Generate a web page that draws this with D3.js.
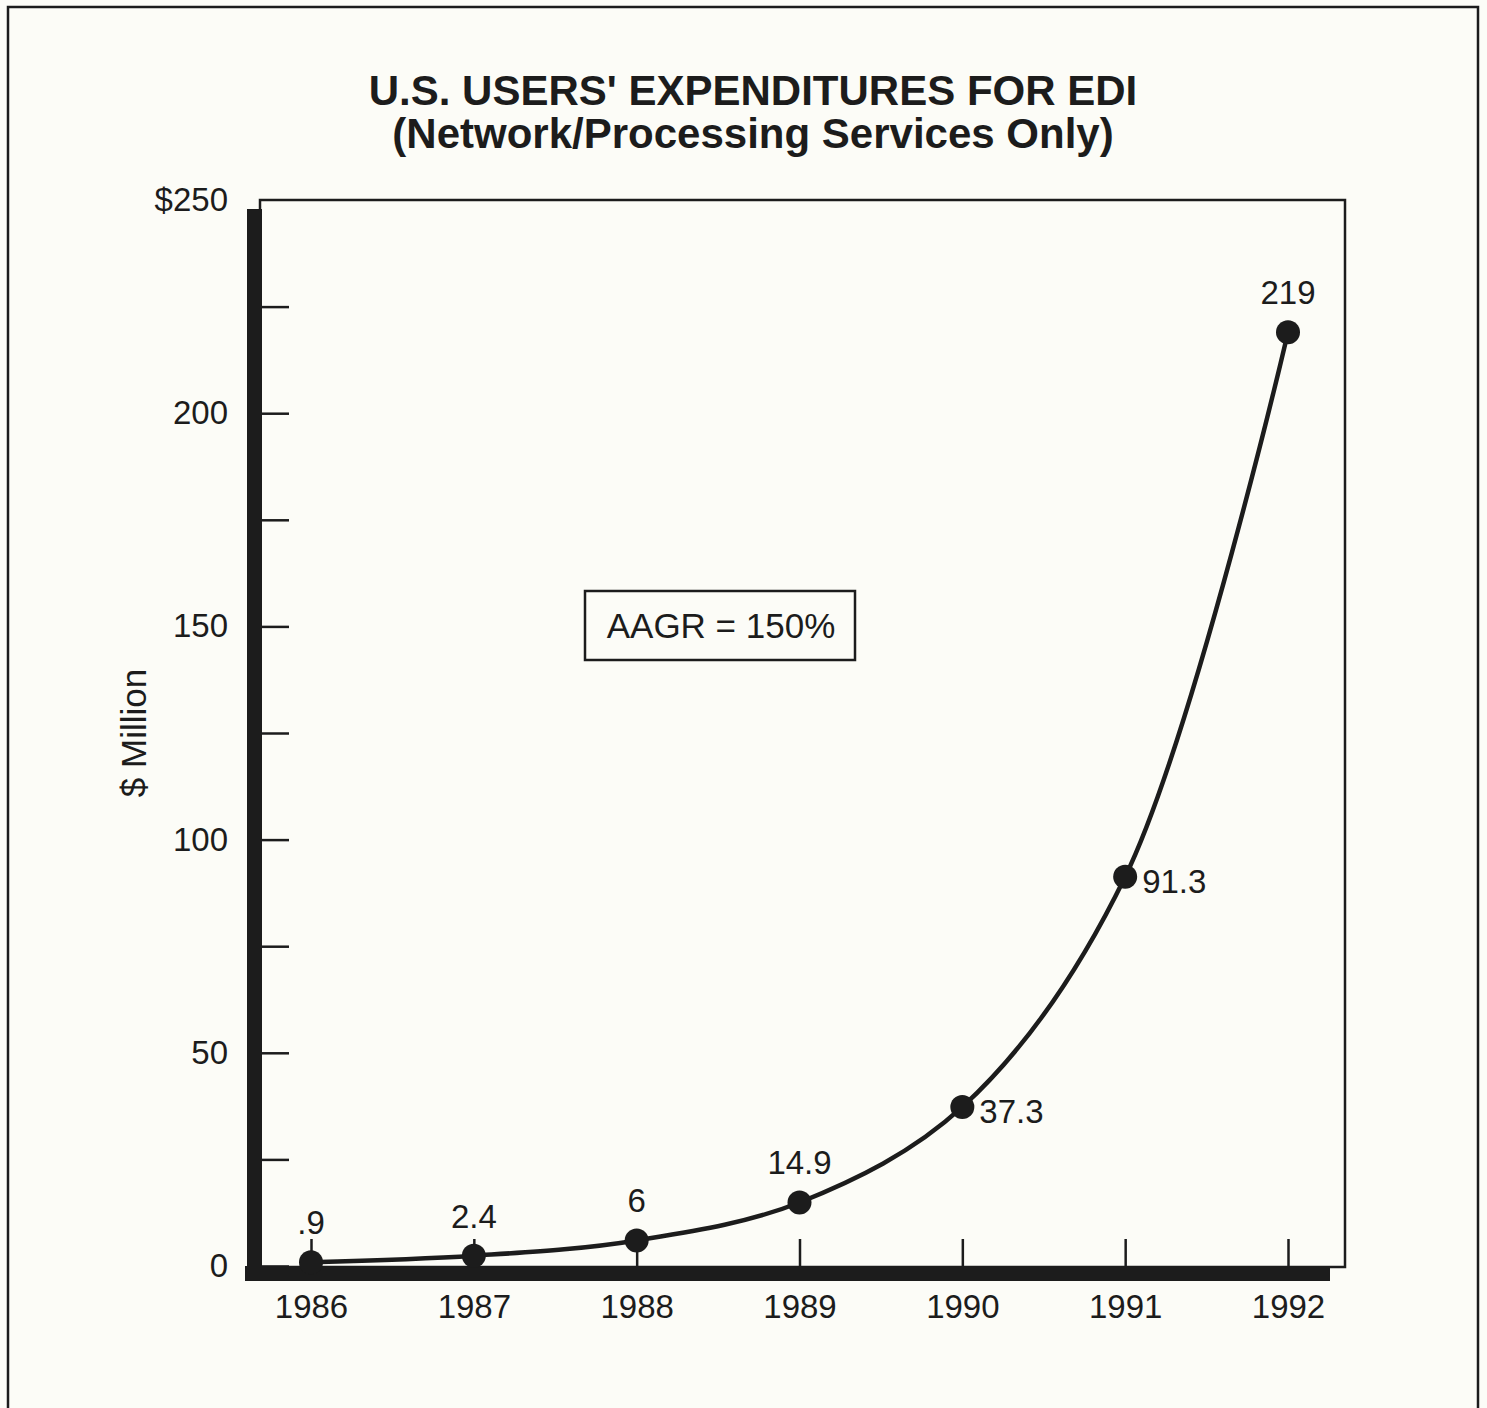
<!DOCTYPE html>
<html>
<head>
<meta charset="utf-8">
<script src="https://cdn.jsdelivr.net/npm/d3@7"></script>
<style>
  html, body { margin: 0; padding: 0; background: #fcfcf7; }
  svg { display: block; }
  text { font-family: "Liberation Sans", Arial, Helvetica, sans-serif; fill: #1c1c1c; }
</style>
</head>
<body>
<script>
// Annual spending on EDI network/processing services, $ million
const years = [1986, 1987, 1988, 1989, 1990, 1991, 1992];
const spend = [0.9, 2.4, 6, 14.9, 37.3, 91.3, 219];
const valueLabels = [".9", "2.4", "6", "14.9", "37.3", "91.3", "219"];
const labelSide = ["above", "above", "above", "above", "right", "right", "above"];
const yTickValues = [0, 25, 50, 75, 100, 125, 150, 175, 200, 225];
const yLabelValues = [0, 50, 100, 150, 200, 250];
const titleLines = ["U.S. USERS' EXPENDITURES FOR EDI", "(Network/Processing Services Only)"];
const yAxisTitle = "$ Million";
const noteText = "AAGR = 150%";

const W = 1487, H = 1408;
const ink = "#1c1c1c";

const svg = d3.select("body").append("svg")
  .attr("width", W).attr("height", H);

svg.append("rect").attr("width", W).attr("height", H).attr("fill", "#fcfcf7");

// page frame
svg.append("rect")
  .attr("x", 8).attr("y", 7).attr("width", 1470).attr("height", 1430)
  .attr("fill", "none").attr("stroke", ink).attr("stroke-width", 2.5);

const plot = { left: 260, right: 1345, top: 200, bottom: 1266 };

const x = d3.scaleLinear().domain([1986, 1992]).range([311, 1288]);
const y = d3.scaleLinear().domain([0, 250]).range([plot.bottom, plot.top]);

// title
svg.append("g").selectAll("text").data(titleLines).join("text")
  .attr("x", 753)
  .attr("y", (d, i) => 105 + i * 43)
  .attr("text-anchor", "middle")
  .attr("font-size", 42)
  .attr("font-weight", "bold")
  .text(d => d);

// thin plot frame
svg.append("rect")
  .attr("x", plot.left).attr("y", plot.top)
  .attr("width", plot.right - plot.left).attr("height", plot.bottom + 1 - plot.top)
  .attr("fill", "none").attr("stroke", ink).attr("stroke-width", 2.5);

// heavy left and bottom axis bars
svg.append("rect")
  .attr("x", 247).attr("y", 209).attr("width", 15).attr("height", 1281 - 209)
  .attr("fill", ink);
svg.append("rect")
  .attr("x", 245).attr("y", 1266).attr("width", 1330 - 245).attr("height", 15)
  .attr("fill", ink);

// y ticks (every 25) pointing into the plot
const yTicks = svg.append("g")
  .attr("transform", `translate(262,0)`)
  .call(d3.axisRight(y).tickValues(yTickValues).tickSize(27).tickFormat(""));
yTicks.select(".domain").remove();
yTicks.selectAll("line").attr("stroke", ink).attr("stroke-width", 2.5);

// y labels (every 50)
const yLabels = svg.append("g")
  .attr("transform", `translate(240,0)`)
  .call(d3.axisLeft(y).tickValues(yLabelValues).tickSize(0).tickPadding(12)
    .tickFormat(d => d === 250 ? "$250" : d3.format("d")(d)));
yLabels.select(".domain").remove();
yLabels.selectAll("text")
  .attr("font-size", 33)
  .attr("font-family", "Liberation Sans, Arial, sans-serif")
  .attr("fill", ink);

// x ticks pointing up from the bottom bar
const xTicks = svg.append("g")
  .attr("transform", `translate(0,1266)`)
  .call(d3.axisTop(x).tickValues(years).tickSize(27).tickFormat(""));
xTicks.select(".domain").remove();
xTicks.selectAll("line").attr("stroke", ink).attr("stroke-width", 2.5);

// x labels
const xLabels = svg.append("g")
  .attr("transform", `translate(0,1281)`)
  .call(d3.axisBottom(x).tickValues(years).tickSize(0).tickPadding(14).tickFormat(d3.format("d")));
xLabels.select(".domain").remove();
xLabels.selectAll("text")
  .attr("font-size", 33)
  .attr("font-family", "Liberation Sans, Arial, sans-serif")
  .attr("fill", ink);

// y axis title
svg.append("text")
  .attr("transform", `translate(146,733) rotate(-90)`)
  .attr("text-anchor", "middle")
  .attr("font-size", 35)
  .text(yAxisTitle);

// growth note box
const note = svg.append("g");
note.append("rect")
  .attr("x", 585).attr("y", 591).attr("width", 270).attr("height", 69)
  .attr("fill", "none").attr("stroke", ink).attr("stroke-width", 2.5);
note.append("text")
  .attr("x", 721).attr("y", 638)
  .attr("text-anchor", "middle")
  .attr("font-size", 35)
  .text(noteText);

// series
const pts = years.map((yr, i) => ({ yr, v: spend[i], label: valueLabels[i], side: labelSide[i] }));

const line = d3.line()
  .x(d => x(d.yr))
  .y(d => y(d.v))
  .curve(d3.curveCatmullRom.alpha(0.5));

svg.append("path")
  .datum(pts)
  .attr("d", line)
  .attr("fill", "none")
  .attr("stroke", ink)
  .attr("stroke-width", 4.5)
  .attr("stroke-linejoin", "round");

svg.append("g").selectAll("circle").data(pts).join("circle")
  .attr("cx", d => x(d.yr))
  .attr("cy", d => y(d.v))
  .attr("r", 12)
  .attr("fill", ink);

svg.append("g").selectAll("text").data(pts).join("text")
  .attr("x", d => d.side === "right" ? x(d.yr) + 17 : x(d.yr))
  .attr("y", d => d.side === "right" ? y(d.v) + 16 : y(d.v) - 28)
  .attr("text-anchor", d => d.side === "right" ? "start" : "middle")
  .attr("font-size", 33)
  .text(d => d.label);
</script>
</body>
</html>
